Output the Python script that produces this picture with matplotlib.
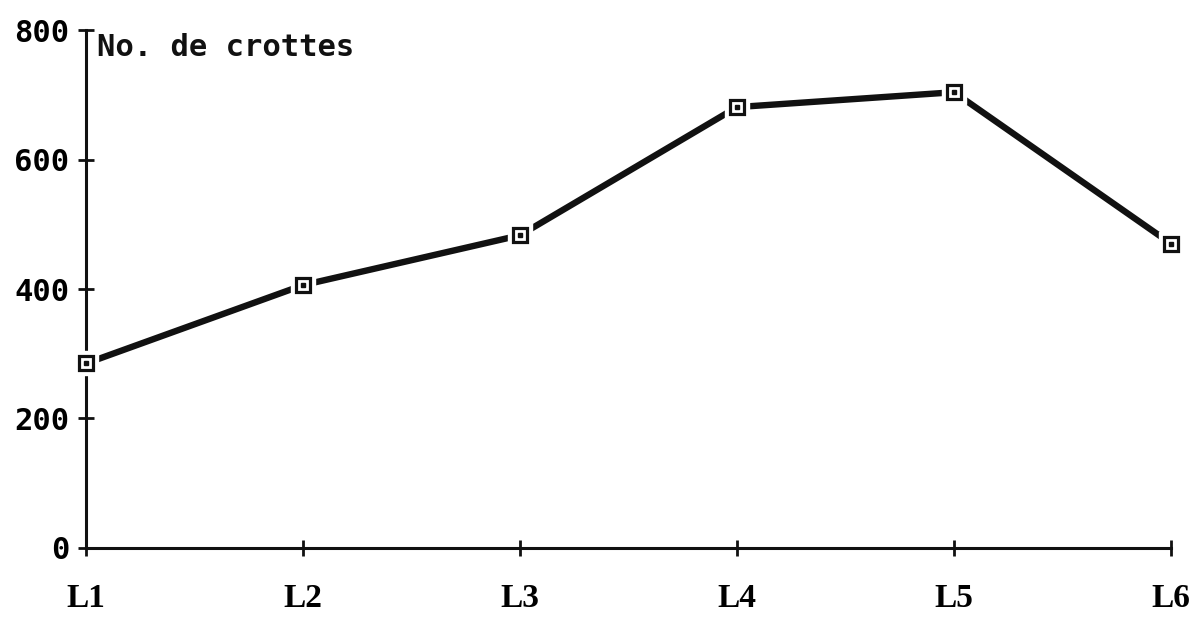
import matplotlib
matplotlib.use("Agg")
import matplotlib.pyplot as plt

# counts per site
sites = ["L1", "L2", "L3", "L4", "L5", "L6"]
counts = [285, 406, 483, 681, 704, 470]
y_ticks = [0, 200, 400, 600, 800]

ink = "#111111"
mono = {"family": "DejaVu Sans Mono", "weight": "bold", "size": 22}
serif = {"family": "Liberation Serif", "weight": "bold", "size": 24}

fig = plt.figure(figsize=(12.04, 6.21), dpi=100)
ax = fig.add_axes([0.0714, 0.1176, 0.9012, 0.834])

x = list(range(len(sites)))

ax.plot(x, counts, color=ink, linewidth=4.6, solid_capstyle="round",
        zorder=2)
# white gap around each marker, then the open square and its centre dot
ax.plot(x, counts, linestyle="none", marker="s", markersize=17,
        markerfacecolor="white", markeredgecolor="white", zorder=3,
        clip_on=False)
ax.plot(x, counts, linestyle="none", marker="s", markersize=10.5,
        markerfacecolor="white", markeredgecolor=ink,
        markeredgewidth=2.3, zorder=4, clip_on=False)
ax.plot(x, counts, linestyle="none", marker="s", markersize=2.8,
        color=ink, zorder=5, clip_on=False)

ax.set_xlim(0, len(sites) - 1)
ax.set_ylim(0, 800)

for side in ("top", "right"):
    ax.spines[side].set_visible(False)
for side in ("left", "bottom"):
    ax.spines[side].set_linewidth(2.2)
    ax.spines[side].set_color(ink)

ax.set_xticks(x)
ax.set_xticklabels(sites, fontdict=serif)
ax.set_yticks(y_ticks)
ax.set_yticklabels([str(v) for v in y_ticks], fontdict=mono)
ax.tick_params(axis="both", direction="inout", length=12, width=2,
               color=ink)
ax.tick_params(axis="x", pad=19)
ax.tick_params(axis="y", pad=6)

ax.text(0.01, 0.995, "No. de crottes", transform=ax.transAxes,
        ha="left", va="top", color=ink, **mono)

fig.savefig("out.png", dpi=100, facecolor="white")
